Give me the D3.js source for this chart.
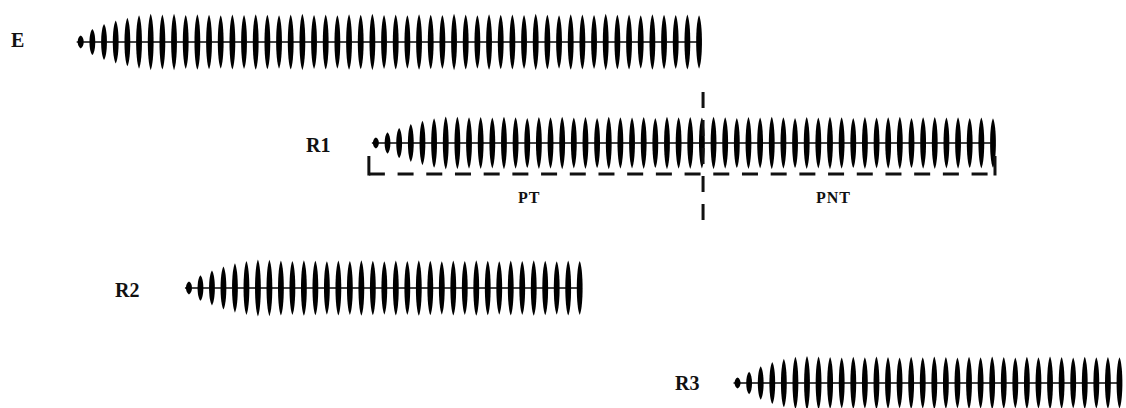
<!DOCTYPE html>
<html>
<head>
<meta charset="utf-8">
<script src="https://cdn.jsdelivr.net/npm/d3@7"></script>
<style>
  body { margin: 0; background: #fff; }
  svg { display: block; }
  text { font-family: "Liberation Serif", "Times New Roman", "DejaVu Serif", serif; fill: #111; }
</style>
</head>
<body>
<div id="chart"></div>
<script>
// trains: label, onset (ms), pulse period (ms)
var labels = ["E", "R1", "R2", "R3"];
var onsets = [0, 253, 92.8, 563];
var periods = [10, 9.98, 9.85, 9.92];

// relative pulse amplitudes
var amp_E = [0.22, 0.45, 0.62, 0.74, 0.84, 0.92, 0.97, 0.95, 0.97, 0.93,
             0.96, 0.94, 0.92, 0.95, 0.93, 0.96, 0.94, 0.92, 0.95, 0.97,
             0.93, 0.95, 0.92, 0.96, 0.94, 0.97, 0.93, 0.95, 0.92, 0.96,
             0.94, 0.93, 0.97, 0.95, 0.92, 0.96, 0.94, 0.95, 0.93, 0.97,
             0.94, 0.92, 0.96, 0.95, 0.93, 0.97, 0.94, 0.95, 0.92, 0.96,
             0.94, 0.93, 0.95, 0.92];
var amp_R1 = [0.2, 0.4, 0.56, 0.7, 0.82, 0.92, 0.98, 0.97, 0.95, 0.96,
              0.94, 0.97, 0.95, 0.93, 0.96, 0.95, 0.97, 0.94, 0.96, 0.93,
              0.97, 0.95, 0.94, 0.96, 0.93, 0.97, 0.95, 0.96, 0.94, 0.97,
              0.95, 0.93, 0.96, 0.94, 0.97, 0.95, 0.93, 0.96, 0.94, 0.97,
              0.95, 0.93, 0.96, 0.94, 0.95, 0.97, 0.93, 0.95, 0.96, 0.94,
              0.95, 0.93, 0.94, 0.92];
var amp_R2 = [0.22, 0.44, 0.6, 0.74, 0.85, 0.93, 0.98, 0.97, 0.95, 0.93,
              0.96, 0.94, 0.92, 0.95, 0.93, 0.96, 0.94, 0.92, 0.95, 0.93,
              0.96, 0.94, 0.92, 0.95, 0.93, 0.96, 0.94, 0.92, 0.95, 0.93,
              0.96, 0.94, 0.92, 0.95, 0.93];
var amp_R3 = [0.2, 0.42, 0.62, 0.78, 0.9, 0.97, 1.0, 0.98, 0.96, 0.94,
              0.97, 0.95, 0.98, 0.96, 0.94, 0.97, 0.95, 0.98, 0.96, 0.94,
              0.97, 0.95, 0.98, 0.96, 0.94, 0.97, 0.95, 0.98, 0.96, 0.94,
              0.97, 0.95, 0.96, 0.95];
var amps = [amp_E, amp_R1, amp_R2, amp_R3];

var section_labels = ["PT", "PNT"];

var width = 1126, height = 408;

// row layout (baseline y, half height in px, label anchor)
var rows = [
    {y: 42,  half: 29, lx: 11,  ly: 47},
    {y: 143, half: 27, lx: 306, ly: 152},
    {y: 288, half: 29, lx: 115, ly: 297},
    {y: 383, half: 27, lx: 675, ly: 390}
];

var svg = d3.select("#chart")
    .append("svg")
    .attr("width", width)
    .attr("height", height);

var defs = svg.append("defs");
defs.append("filter")
    .attr("id", "soft")
    .append("feGaussianBlur")
    .attr("stdDeviation", 0.5);

var x = d3.scaleLinear()
    .domain([0, 1000])
    .range([80.7, 80.7 + 1166.7]);

// bar-like spindle pulse, tapered ends
function pulse(h, w) {
    var c = w / 1.5;
    return "M0," + (-h) +
	"C" + c + "," + (-h * 0.7) + " " + c + "," + (h * 0.7) + " 0," + h +
	"C" + (-c) + "," + (h * 0.7) + " " + (-c) + "," + (-h * 0.7) + " 0," + (-h) + "Z";
}

labels.forEach(function(lab, i) {
    var r = rows[i];
    var g = svg.append("g")
	.attr("filter", "url(#soft)");
    var times = amps[i].map(function(d, k) { return onsets[i] + k * periods[i]; });
    var yAmp = d3.scaleLinear().domain([0, 1]).range([0, r.half]);

    // carrier line
    g.append("line")
	.attr("x1", x(times[0]) - 4)
	.attr("x2", x(times[times.length - 1]) + 1)
	.attr("y1", r.y)
	.attr("y2", r.y)
	.attr("stroke", "#444")
	.attr("stroke-width", 1.8);

    g.selectAll("path.pulse")
	.data(amps[i])
	.enter()
	.append("path")
	.attr("class", "pulse")
	.attr("transform", function(d, k) {
	    return "translate(" + x(times[k]) + "," + r.y + ")";
	})
	.attr("d", function(d) { return pulse(yAmp(d), d < 0.3 ? 6 : 5.8); })
	.attr("fill", "#050505");

    svg.append("text")
	.attr("x", r.lx)
	.attr("y", r.ly)
	.attr("font-size", 20)
	.attr("font-weight", "bold")
	.text(lab);
});

// bracket under R1 and the PT / PNT divider
var r1 = rows[1];
var r1_end = onsets[1] + (amp_R1.length - 1) * periods[1];
var bx0 = x(onsets[1]) - 7, bx1 = x(r1_end) + 2;
var by = r1.y + 31, btop = r1.y + 13;
var divider = x(onsets[0] + (amp_E.length - 1) * periods[0]) + 4;

var br = svg.append("g")
    .attr("stroke", "#111")
    .attr("stroke-width", 3)
    .attr("fill", "none");

br.append("line")
    .attr("x1", bx0).attr("x2", bx0)
    .attr("y1", btop).attr("y2", by + 1.5);
br.append("line")
    .attr("x1", bx1).attr("x2", bx1)
    .attr("y1", btop).attr("y2", by + 1.5);
br.append("line")
    .attr("x1", bx0).attr("x2", bx1)
    .attr("y1", by).attr("y2", by)
    .attr("stroke-dasharray", "16,12.7");
br.append("line")
    .attr("x1", divider).attr("x2", divider)
    .attr("y1", 92).attr("y2", 221)
    .attr("stroke-dasharray", "16,12");

var sec_x = [518, 816];
svg.selectAll("text.sec")
    .data(section_labels)
    .enter()
    .append("text")
    .attr("class", "sec")
    .attr("x", function(d, i) { return sec_x[i]; })
    .attr("y", 203)
    .attr("font-size", 16)
    .attr("font-weight", "bold")
    .attr("letter-spacing", 1)
    .text(function(d) { return d; });
</script>
</body>
</html>
